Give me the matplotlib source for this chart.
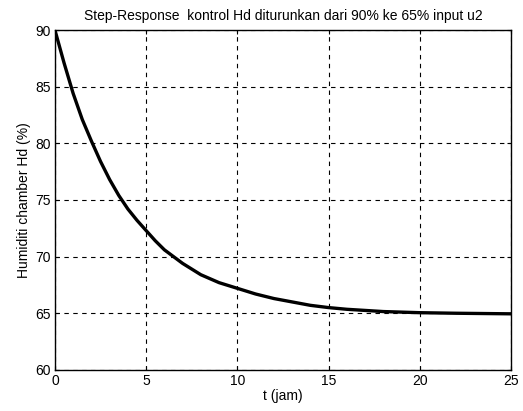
import numpy as np
import matplotlib
matplotlib.use("Agg")
import matplotlib.pyplot as plt

plt.rcParams.update({
    "font.family": ["Liberation Sans", "DejaVu Sans"],
    "font.size": 10,
})

# values
t_jam = [0, 0.5, 1, 1.5, 2, 2.5, 3, 3.5, 4, 4.5, 5, 5.5, 6, 6.5, 7, 7.5, 8,
         9, 10, 11, 12, 13, 14, 15, 16, 17, 18, 20, 22, 25]
hd = [90.0, 87.1, 84.4, 82.1, 80.2, 78.4, 76.8, 75.4, 74.2, 73.2, 72.3, 71.4,
      70.6, 70.0, 69.4, 68.9, 68.4, 67.7, 67.2, 66.7, 66.3, 66.0, 65.7, 65.5,
      65.35, 65.25, 65.15, 65.05, 65.0, 64.95]

x_ticks = [0, 5, 10, 15, 20, 25]
y_ticks = [60, 65, 70, 75, 80, 85, 90]

fig = plt.figure(figsize=(5.23, 4.11), dpi=100)
ax = fig.add_axes([0.105, 0.1, 0.872, 0.827])

ax.plot(t_jam, hd, color="black", lw=2.4, solid_capstyle="round",
        solid_joinstyle="round")

ax.set_xlim(0, 25)
ax.set_ylim(60, 90)
ax.set_xticks(x_ticks)
ax.set_yticks(y_ticks)
ax.grid(True, color="black", linestyle=(0, (4, 4)), linewidth=0.8)
ax.tick_params(direction="in", length=3, top=True, right=True, labelsize=10,
               pad=3)
for s in ax.spines.values():
    s.set_linewidth(1.0)

ax.set_xlabel("t (jam)", fontsize=10, labelpad=1)
ax.set_ylabel("Humiditi chamber Hd (%)", fontsize=10, labelpad=3)
ax.set_title("Step-Response  kontrol Hd diturunkan dari 90% ke 65% input u2",
             fontsize=10, pad=7)

fig.savefig("out.png", dpi=100)
